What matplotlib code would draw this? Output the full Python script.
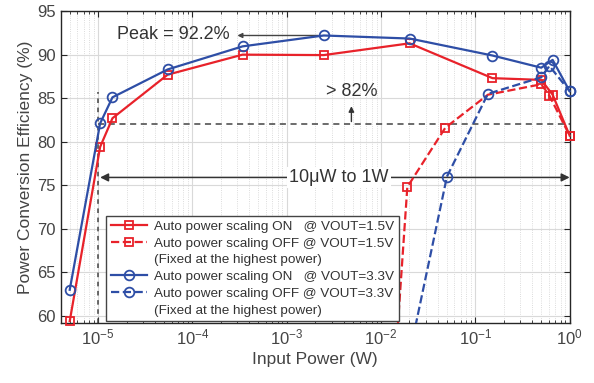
import matplotlib
matplotlib.use("Agg")
import matplotlib.pyplot as plt
import numpy as np
from matplotlib.ticker import LogLocator, NullFormatter
from matplotlib.lines import Line2D

plt.rcParams['font.family'] = ['Liberation Sans', 'DejaVu Sans']

# Data
red_on_x = [5.0e-6, 1.05e-5, 1.42e-5, 5.46e-5, 3.4e-4, 2.47e-3, 2.01e-2, 0.152, 0.5, 0.66, 1.0]
red_on_y = [59.4, 79.4, 82.7, 87.7, 90.0, 89.95, 91.3, 87.3, 87.1, 85.4, 80.7]

red_off_x = [0.0126, 0.019, 0.048, 0.136, 0.5, 0.61, 1.0]
red_off_y = [46.6, 74.8, 81.6, 85.4, 86.6, 85.3, 80.7]

blue_on_x = [5.0e-6, 1.05e-5, 1.42e-5, 5.46e-5, 3.4e-4, 2.47e-3, 2.01e-2, 0.152, 0.5, 0.66, 1.0]
blue_on_y = [63.0, 82.1, 85.1, 88.3, 90.95, 92.2, 91.85, 89.9, 88.5, 89.4, 85.8]

blue_off_x = [0.0158, 0.05, 0.136, 0.5, 0.61, 1.0]
blue_off_y = [50.3, 76.0, 85.5, 87.4, 88.7, 85.8]

label_on_15 = "Auto power scaling ON   @ VOUT=1.5V"
label_off_15 = "Auto power scaling OFF @ VOUT=1.5V"
label_on_33 = "Auto power scaling ON   @ VOUT=3.3V"
label_off_33 = "Auto power scaling OFF @ VOUT=3.3V"
label_fixed = "(Fixed at the highest power)"

RED = '#e8222a'
BLUE = '#2e4ea6'
TXT = '#333333'
YMIN, YMAX = 59.2, 95

fig = plt.figure(figsize=(5.94, 3.83), dpi=100)
ax = fig.add_axes([0.102, 0.157, 0.857, 0.814])

mk_red = dict(marker='s', ms=6, mfc='none', mew=1.3)
mk_blue = dict(marker='o', ms=7, mfc='none', mew=1.3)

ax.plot(red_on_x, red_on_y, '-', color=RED, lw=1.6, zorder=4, clip_on=False, **mk_red)
ax.plot(red_off_x, red_off_y, '--', color=RED, lw=1.6, zorder=4)
rx = [x for i, (x, y) in enumerate(zip(red_off_x, red_off_y)) if y >= YMIN and i != 3]
ry = [y for i, (x, y) in enumerate(zip(red_off_x, red_off_y)) if y >= YMIN and i != 3]
ax.plot(rx, ry, ls='none', color=RED, zorder=4, clip_on=False, **mk_red)

ax.plot(blue_on_x, blue_on_y, '-', color=BLUE, lw=1.6, zorder=5, clip_on=False, **mk_blue)
ax.plot(blue_off_x, blue_off_y, '--', color=BLUE, lw=1.6, zorder=5)
bx = [x for x, y in zip(blue_off_x, blue_off_y) if y >= YMIN]
by = [y for x, y in zip(blue_off_x, blue_off_y) if y >= YMIN]
ax.plot(bx, by, ls='none', color=BLUE, zorder=5, clip_on=False, **mk_blue)

ax.set_xscale('log')
ax.set_xlim(4.0e-6, 1.0)
ax.set_ylim(YMIN, YMAX)
ax.set_yticks([60, 65, 70, 75, 80, 85, 90, 95])
ax.xaxis.set_major_locator(LogLocator(base=10, numticks=10))
ax.xaxis.set_minor_locator(LogLocator(base=10, subs=np.arange(2, 10), numticks=20))
ax.xaxis.set_minor_formatter(NullFormatter())

ax.grid(True, which='major', color='#d9d9d9', lw=0.8, zorder=0)
ax.grid(True, which='minor', axis='x', color='#d0d0d0', lw=0.6, ls=':', zorder=0)
ax.set_axisbelow(True)

ax.tick_params(which='both', direction='in', top=True, right=True, colors='#262626',
               labelcolor='#444444', labelsize=12)
ax.tick_params(which='major', length=4)
ax.tick_params(which='minor', length=2.5)
for s in ax.spines.values():
    s.set_color('#262626')
    s.set_linewidth(1.0)

ax.set_xlabel('Input Power (W)', fontsize=12.5, color='#444444', labelpad=3)
ax.set_ylabel('Power Conversion Efficiency (%)', fontsize=12.5, color='#444444', labelpad=3)

# Annotations
ax.plot([1e-5, 1.0], [82, 82], ls=(0, (4, 3)), color='#444444', lw=1.1, zorder=2)
ax.plot([1e-5, 1e-5], [YMIN, 85.7], ls=(0, (3, 3)), color='#444444', lw=1.1, zorder=2)
ax.annotate('', xy=(4.85e-3, 84.4), xytext=(4.85e-3, 82),
            arrowprops=dict(arrowstyle='-|>', color='#333333', lw=1.0, mutation_scale=8))
ax.text(4.85e-3, 85.8, '> 82%', ha='center', va='center', fontsize=13, color=TXT)

ax.annotate('', xy=(2.8e-4, 92.2), xytext=(2.3e-3, 92.2),
            arrowprops=dict(arrowstyle='-|>', color='#444444', lw=1.0, mutation_scale=7))
ax.text(2.5e-4, 92.3, 'Peak = 92.2%', ha='right', va='center', fontsize=13, color=TXT)

ax.annotate('', xy=(1.05e-5, 75.9), xytext=(1.0, 75.9),
            arrowprops=dict(arrowstyle='<|-|>', color='#333333', lw=1.1, mutation_scale=12,
                            shrinkA=0, shrinkB=0))
ax.text(3.6e-3, 75.9, '10\u03bcW to 1W', ha='center', va='center', fontsize=13, color=TXT,
        bbox=dict(facecolor='white', edgecolor='none', pad=1.5))

# Legend with handles aligned to the first line
h_red_on = Line2D([], [], color=RED, lw=1.6, ls='-', **mk_red)
h_red_off = Line2D([], [], color=RED, lw=1.6, ls='--', **mk_red)
h_blue_on = Line2D([], [], color=BLUE, lw=1.6, ls='-', **mk_blue)
h_blue_off = Line2D([], [], color=BLUE, lw=1.6, ls='--', **mk_blue)
h_blank = Line2D([], [], color='none', lw=0)
handles = [h_red_on, h_red_off, h_blank, h_blue_on, h_blue_off, h_blank]
leg_labels = [label_on_15, label_off_15, label_fixed, label_on_33, label_off_33, label_fixed]
leg = ax.legend(handles, leg_labels, loc='lower left', bbox_to_anchor=(0.09, 0.005),
                fontsize=9.7, frameon=True, fancybox=False, edgecolor='#444444',
                handlelength=2.7, borderpad=0.35, labelspacing=0.32, handletextpad=0.5,
                borderaxespad=0.0, framealpha=1.0)
leg.get_frame().set_linewidth(1.0)
leg.set_zorder(10)
for t in leg.get_texts():
    t.set_color(TXT)

fig.savefig('out.png', dpi=100)
